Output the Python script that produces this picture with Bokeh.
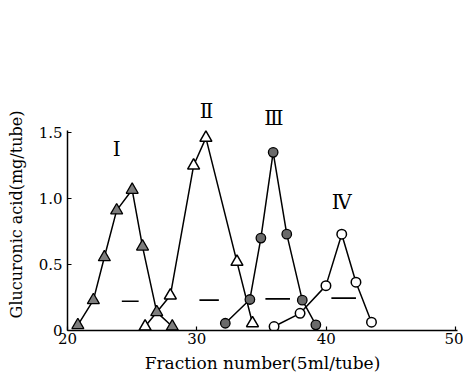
from bokeh.plotting import figure
from bokeh.models import Range1d, FixedTicker, ColumnDataSource
from bokeh.core.properties import value
from bokeh.embed import file_html
from bokeh.resources import INLINE

# Series I (filled triangles)
s1_x = [20.8, 22.0, 22.85, 23.8, 25.0, 25.8, 26.9, 28.1]
s1_y = [0.04, 0.23, 0.555, 0.91, 1.066, 0.636, 0.139, 0.03]
# Series II (open triangles)
s2_x = [26.0, 27.95, 29.75, 30.7, 33.1, 34.3]
s2_y = [0.03, 0.265, 1.25, 1.46, 0.52, 0.055]
# Series III (filled circles)
s3_x = [32.2, 34.1, 34.95, 35.9, 36.95, 38.15, 39.2]
s3_y = [0.055, 0.235, 0.70, 1.35, 0.73, 0.23, 0.043]
# Series IV (open circles)
s4_x = [35.97, 37.98, 39.98, 41.2, 42.3, 43.5]
s4_y = [0.03, 0.13, 0.34, 0.73, 0.366, 0.063]

# short horizontal dashes
dash_x0 = [24.2, 30.2, 35.3, 40.4]
dash_x1 = [25.5, 31.7, 37.2, 42.3]
dash_y = [0.222, 0.23, 0.24, 0.245]

# peak labels
peak_labels = ["Ⅰ", "Ⅱ", "Ⅲ", "Ⅳ"]
peak_x = [23.8, 30.75, 35.95, 41.2]
peak_y = [1.375, 1.667, 1.61, 0.97]

x_ticks = [20, 30, 40, 50]
y_ticks = [0, 0.5, 1.0, 1.5]
y_tick_labels = {0: "0", 0.5: "0.5", 1: "1.0", 1.5: "1.5"}

SERIF = "DejaVu Serif"

p = figure(width=463, height=376, output_backend="svg", toolbar_location=None,
           x_range=Range1d(20, 50.15), y_range=Range1d(0, 1.758),
           min_border_left=67, min_border_right=6, min_border_top=98, min_border_bottom=46)
p.outline_line_color = None
p.grid.visible = False
p.background_fill_color = "white"

for ax in (p.xaxis[0], p.yaxis[0]):
    ax.axis_line_width = 1.5
    ax.axis_line_color = "black"
    ax.major_tick_in = 4
    ax.major_tick_out = 0
    ax.major_tick_line_width = 1.2
    ax.minor_tick_line_color = None
    ax.major_label_text_font = SERIF
    ax.major_label_text_font_size = "15px"
    ax.major_label_text_color = "black"
    ax.axis_label_text_font = SERIF
    ax.axis_label_text_font_style = "normal"
    ax.axis_label_text_color = "black"

p.yaxis[0].bounds = (0, 1.515)
p.xaxis.ticker = FixedTicker(ticks=x_ticks)
p.yaxis.ticker = FixedTicker(ticks=y_ticks)
p.yaxis.major_label_overrides = y_tick_labels
p.xaxis.major_label_standoff = 2
p.yaxis.major_label_standoff = 5
p.xaxis.axis_label = "Fraction number(5ml/tube)"
p.yaxis.axis_label = "Glucuronic acid(mg/tube)"
p.xaxis.axis_label_text_font_size = "17px"
p.yaxis.axis_label_text_font_size = "16px"
p.xaxis.axis_label_standoff = 6
p.yaxis.axis_label_standoff = 10

# lines
for xs, ys in ((s1_x, s1_y), (s2_x, s2_y), (s3_x, s3_y), (s4_x, s4_y)):
    p.line(xs, ys, line_color="black", line_width=1.5)

p.segment(x0=dash_x0, y0=dash_y, x1=dash_x1, y1=dash_y, line_color="black", line_width=1.6)

p.scatter(s1_x, s1_y, marker="triangle", size=12, fill_color="#7d7d7d",
          line_color="black", line_width=1.3)
p.scatter(s2_x, s2_y, marker="triangle", size=12, fill_color="white",
          line_color="black", line_width=1.5)
p.scatter(s3_x, s3_y, marker="circle", size=9.5, fill_color="#6a6a6a",
          line_color="black", line_width=1.3)
p.scatter(s4_x, s4_y, marker="circle", size=9.5, fill_color="white",
          line_color="black", line_width=1.5)

src = ColumnDataSource(dict(x=peak_x, y=peak_y, t=peak_labels))
p.text(x="x", y="y", text="t", source=src, text_font=value(SERIF),
       text_font_size="20px", text_align="center", text_baseline="middle",
       text_color="black")

open("out.html", "w").write(file_html(p, INLINE))
